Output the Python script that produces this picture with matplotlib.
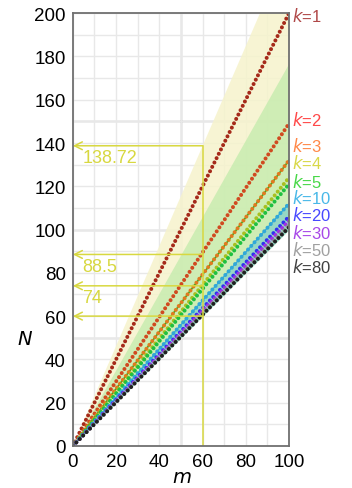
import matplotlib.pyplot as plt

k_values = [1, 2, 3, 4, 5, 10, 20, 30, 50, 80]
n_at_m100 = [200, 149, 132, 124, 121, 112, 106, 104, 102, 101]
k_colors = ["#a52a1a", "#d04a20", "#e07a20", "#a8c020", "#20c040",
            "#30a8d8", "#3030f0", "#a030e0", "#909090", "#202020"]
label_colors = ["#b04848", "#ff4848", "#ff8848", "#d8d848", "#48d848",
                "#48b8e8", "#4848ff", "#a848e8", "#a0a0a0", "#404040"]
label_y = [199, 151, 139, 131, 122.5, 115, 107, 99, 91, 83]

band_upper = [231, 177, 113]
band_colors = ["#f6f3cc", "#c8ecb0", "#8cd4c8"]

marked_n = [138.72, 88.5, 74, 60]
marked_text = ["138.72", "88.5", "74", None]
marked_m = 60
yel = "#d8d840"

plt.rcParams['font.family'] = ['Liberation Sans', 'DejaVu Sans']

fig = plt.figure(figsize=(3.52, 4.89), dpi=100)
ax = fig.add_axes([0.207, 0.086, 0.614, 0.885])

m_ends = [0, 100]
for up, c in zip(band_upper, band_colors):
    ax.fill_between(m_ends, [0, 100], [0, up], color=c, alpha=0.85, lw=0, zorder=1)

for i, (k, n) in enumerate(zip(k_values, n_at_m100)):
    if k == 3:
        ax.plot(m_ends, [0, n], color="#30b020", lw=1.2, zorder=3)
    if k == 10:
        ax.plot(m_ends, [0, n], color="#30a8d8", lw=0.8, zorder=3)
    ax.plot(m_ends, [0, n], color=k_colors[i], lw=2.9,
            linestyle=(0, (0.01, 1.2)), dash_capstyle='round', zorder=4 + i * 0.01)

for y, t in zip(marked_n, marked_text):
    ax.annotate('', xy=(0, y), xytext=(marked_m, y),
                arrowprops=dict(arrowstyle='->', color=yel, lw=1.1,
                                shrinkA=0, shrinkB=0, mutation_scale=14),
                zorder=6, annotation_clip=False)
    if t:
        ax.text(4.5, y - 1.5, t, color=yel, fontsize=13, va='top', ha='left', zorder=6)
ax.plot([marked_m, marked_m], [0, marked_n[0]], color=yel, lw=1.1, zorder=6)

ax.set_xlim(0, 100)
ax.set_ylim(0, 200)
ax.set_xticks(range(0, 101, 20))
ax.set_yticks(range(0, 201, 20))
ax.set_xticks(range(0, 101, 10), minor=True)
ax.set_yticks(range(0, 201, 10), minor=True)
ax.grid(which='both', color='#e8e8e8', lw=1, zorder=0)
ax.axvline(50, color='#a8a8a8', lw=1, zorder=0.5)
for v in [50, 100, 150]:
    ax.axhline(v, color='#a8a8a8', lw=1, zorder=0.5)
ax.set_axisbelow(True)
ax.tick_params(which='both', length=0, labelsize=13.5, pad=5)
for s in ax.spines.values():
    s.set_color('#707070')
    s.set_linewidth(1.3)
    s.set_zorder(7)

for i, k in enumerate(k_values):
    ax.text(101.5, label_y[i], f"$k$=" + str(k), color=label_colors[i],
            fontsize=12, va='center', ha='left', clip_on=False)

fig.text(0.07, 0.305, "$N$", fontsize=14, ha='center', va='center')
fig.text(0.517, 0.022, "$m$", fontsize=14, ha='center', va='center')

fig.savefig("out.png", dpi=100)
